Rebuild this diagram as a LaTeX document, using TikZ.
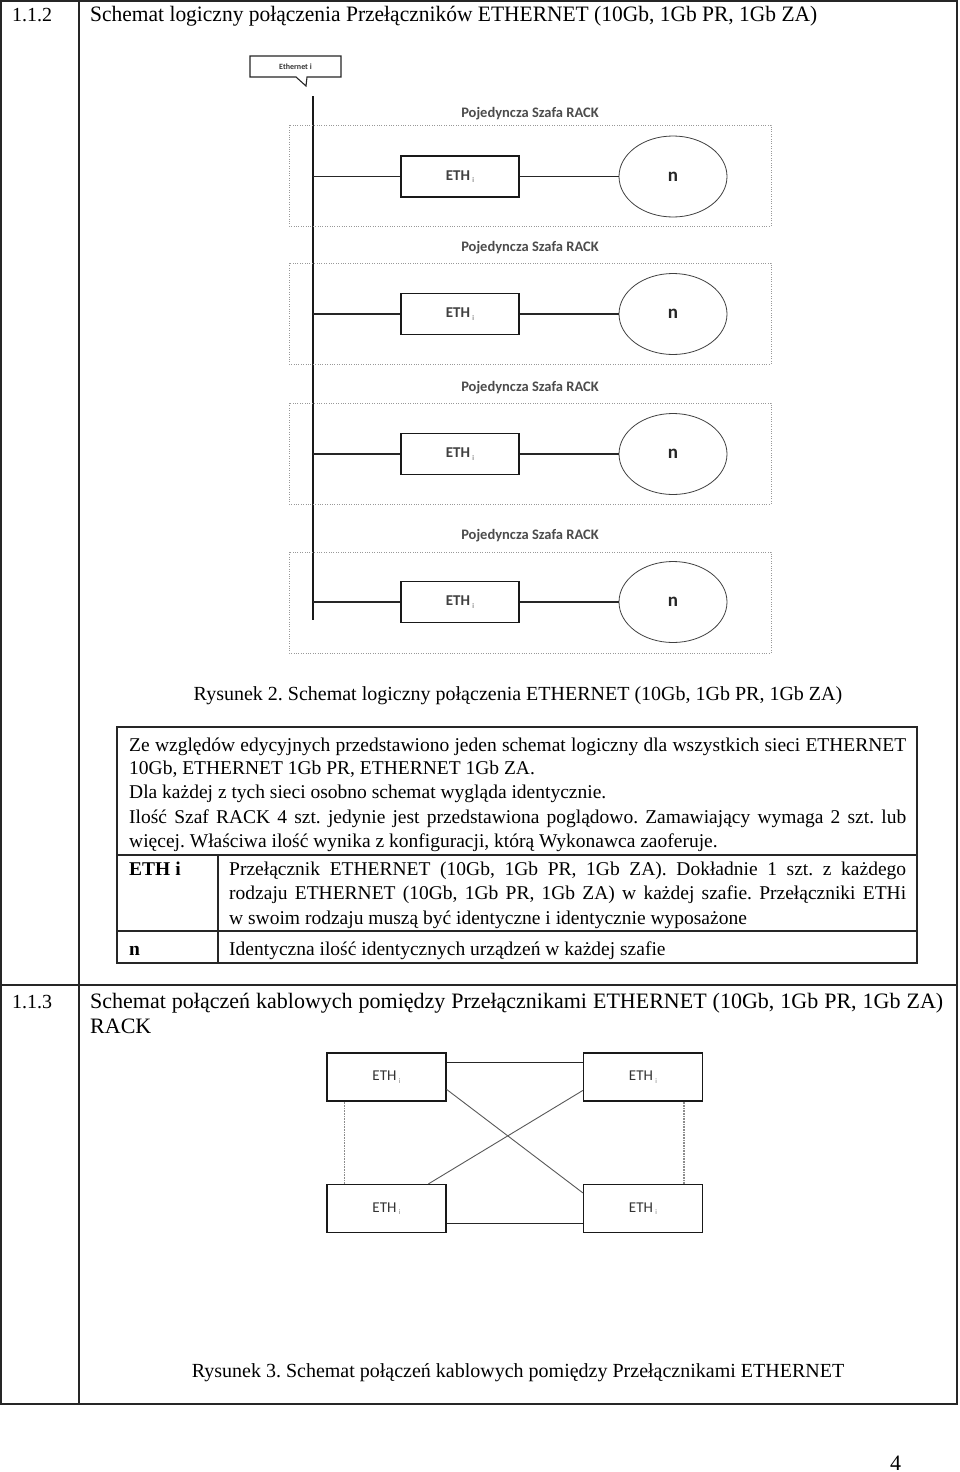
\documentclass[tikz,border=0pt]{standalone}
\usepackage{fontspec}
\setmainfont{Liberation Serif}
\newfontfamily\calibri{Carlito}
\usetikzlibrary{shapes.geometric}
\frenchspacing
\newcommand\myfs[1]{\fontsize{#1}{#1}\selectfont}
\newcommand\ethlabel{ETH\,\raisebox{-2.5pt}{\myfs{7}\color{black!50}i}}
\begin{document}
\begin{tikzpicture}[x=1pt,y=-1pt,
  frame/.style={line width=1.3pt, draw=black!85},
  rackbox/.style={draw=black!40, line width=0.8pt, dash pattern=on 0.8pt off 1.6pt},
  ethbox/.style={draw=black!90, line width=1.2pt, minimum width=118pt, minimum height=41pt, inner sep=0pt, font=\calibri\bfseries\myfs{15}, text=black!75},
  swbox/.style={draw=black!90, line width=1.2pt, minimum width=119pt, minimum height=48pt, inner sep=0pt, font=\calibri\myfs{15}, text=black!80},
  nell/.style={ellipse, draw=black!75, line width=0.8pt, minimum width=108pt, minimum height=81pt, inner sep=0pt, font=\calibri\bfseries\myfs{19}, text=black!85},
  wire/.style={line width=1.1pt, draw=black!85},
  diag/.style={line width=0.9pt, draw=black!65},
  grey/.style={line width=1.6pt, draw=black!45, dash pattern=on 1pt off 0.6pt},
  racklabel/.style={font=\calibri\bfseries\myfs{14.5}, text=black!70, anchor=base, inner sep=0pt},
  txt/.style={anchor=base west, inner sep=0pt, font=\myfs{19.5}},
  head/.style={anchor=base west, inner sep=0pt, font=\myfs{22}},
  captxt/.style={anchor=base, inner sep=0pt, font=\myfs{20}}
]
\useasboundingbox (0,0) rectangle (960,1472);
\fill[white] (0,0) rectangle (960,1472);

% outer frame
\draw[frame] (1,1) rectangle (957,1404);
\draw[frame] (79,1) -- (79,1404);
\draw[frame] (1,985) -- (957,985);

% section 1.1.2
\node[head, font=\myfs{20}] (s112) at (12,22) {1.1.2};
\node[head] (t112) at (90,22) {\resizebox{727pt}{\height}{Schemat logiczny połączenia Przełączników ETHERNET (10Gb, 1Gb PR, 1Gb ZA)}};

% callout
\draw[line width=1.1pt, draw=black!85] (250,56) -- (341,56) -- (341,77) -- (307,77) -- (306,86) -- (296,77) -- (250,77) -- cycle;
\node[font=\calibri\bfseries\myfs{8}, text=black!80, inner sep=0pt] (ethi) at (295.5,66.5) {Ethernet i};

% bus
\coordinate (bustop) at (313,96);
\coordinate (busbot) at (313,620);
\draw[line width=1.6pt, draw=black!90] (bustop) -- (busbot);

% racks
\foreach \i/\rt/\ly/\cy in {1/125/117/176.5, 2/263/251/314, 3/403/391/454, 4/552/539/602}{
  \draw[rackbox] (289,\rt) rectangle (771,\rt+101);
  \node[racklabel] (lab\i) at (530,\ly) {Pojedyncza Szafa RACK};
  \node[ethbox] (eth\i) at (460,\cy) {\ethlabel};
  \node[nell] (n\i) at (673,\cy) {n};
  \coordinate (tap\i) at (313,\cy);
  \draw[wire] (tap\i) -- (eth\i);
  \draw[wire] (eth\i) -- (n\i);
}

% caption 2
\node[captxt] (cap2) at (518,700) {Rysunek 2. Schemat logiczny połączenia ETHERNET (10Gb, 1Gb PR, 1Gb ZA)};

% table
\draw[frame, line width=1.1pt] (117,727) rectangle (917,963);
\draw[frame, line width=1.1pt] (117,855) -- (917,855);
\draw[frame, line width=1.1pt] (117,931) -- (917,931);
\draw[frame, line width=1.1pt] (218,855) -- (218,963);

\node[txt] (l1) at (129,751) {\makebox[777pt][s]{Ze względów edycyjnych przedstawiono jeden schemat logiczny dla wszystkich sieci ETHERNET}};
\node[txt] (l2) at (129,774) {10Gb, ETHERNET 1Gb PR, ETHERNET 1Gb ZA.};
\node[txt] (l3) at (129,798) {Dla każdej z tych sieci osobno schemat wygląda identycznie.};
\node[txt] (l4) at (129,823) {\makebox[777pt][s]{Ilość Szaf RACK 4 szt. jedynie jest przedstawiona poglądowo. Zamawiający wymaga 2 szt. lub}};
\node[txt] (l5) at (129,847) {więcej. Właściwa ilość wynika z konfiguracji, którą Wykonawca zaoferuje.};
\node[txt, font=\myfs{19.5}\bfseries] (k1) at (129,875) {ETH i};
\node[txt] (d1) at (229,875) {\makebox[677pt][s]{Przełącznik ETHERNET (10Gb, 1Gb PR, 1Gb ZA). Dokładnie 1 szt. z każdego}};
\node[txt] (d2) at (229,899) {\makebox[677pt][s]{rodzaju ETHERNET (10Gb, 1Gb PR, 1Gb ZA) w każdej szafie. Przełączniki ETHi}};
\node[txt] (d3) at (229,924) {w swoim rodzaju muszą być identyczne i identycznie wyposażone};
\node[txt, font=\myfs{19.5}\bfseries] (k2) at (129,955) {n};
\node[txt] (d4) at (229,955) {Identyczna ilość identycznych urządzeń w każdej szafie};

% section 1.1.3
\node[head, font=\myfs{20}] (s113) at (12,1008) {1.1.3};
\node[head] (t113) at (90,1008) {\makebox[853pt][s]{Schemat połączeń kablowych pomiędzy Przełącznikami ETHERNET (10Gb, 1Gb PR, 1Gb ZA)}};
\node[head] (t113b) at (90,1033) {RACK};

% switches
\node[swbox] (tl) at (386.5,1077) {\ethlabel};
\node[swbox] (tr) at (643,1077) {\ethlabel};
\node[swbox] (bl) at (386.5,1208.5) {\ethlabel};
\node[swbox] (br) at (643,1208.5) {\ethlabel};
\draw[wire] ([yshift=-10pt]tl.north east) -- ([yshift=-10pt]tr.north west);
\draw[wire] ([yshift=10pt]bl.south east) -- ([yshift=10pt]br.south west);
\draw[diag] ([yshift=-37pt]tl.north east) -- ([yshift=-9pt]br.north west);
\draw[diag] ([yshift=-38pt]tr.north west) -- ([xshift=102pt]bl.north west);
\draw[grey] ([xshift=18pt]tl.south west) -- ([xshift=18pt]bl.north west);
\draw[grey] ([xshift=-19pt]tr.south east) -- ([xshift=-19pt]br.north east);

% caption 3
\node[captxt] (cap3) at (518,1377) {Rysunek 3. Schemat połączeń kablowych pomiędzy Przełącznikami ETHERNET};

% page number
\node[head] (pg) at (890,1470) {4};
\end{tikzpicture}
\end{document}
